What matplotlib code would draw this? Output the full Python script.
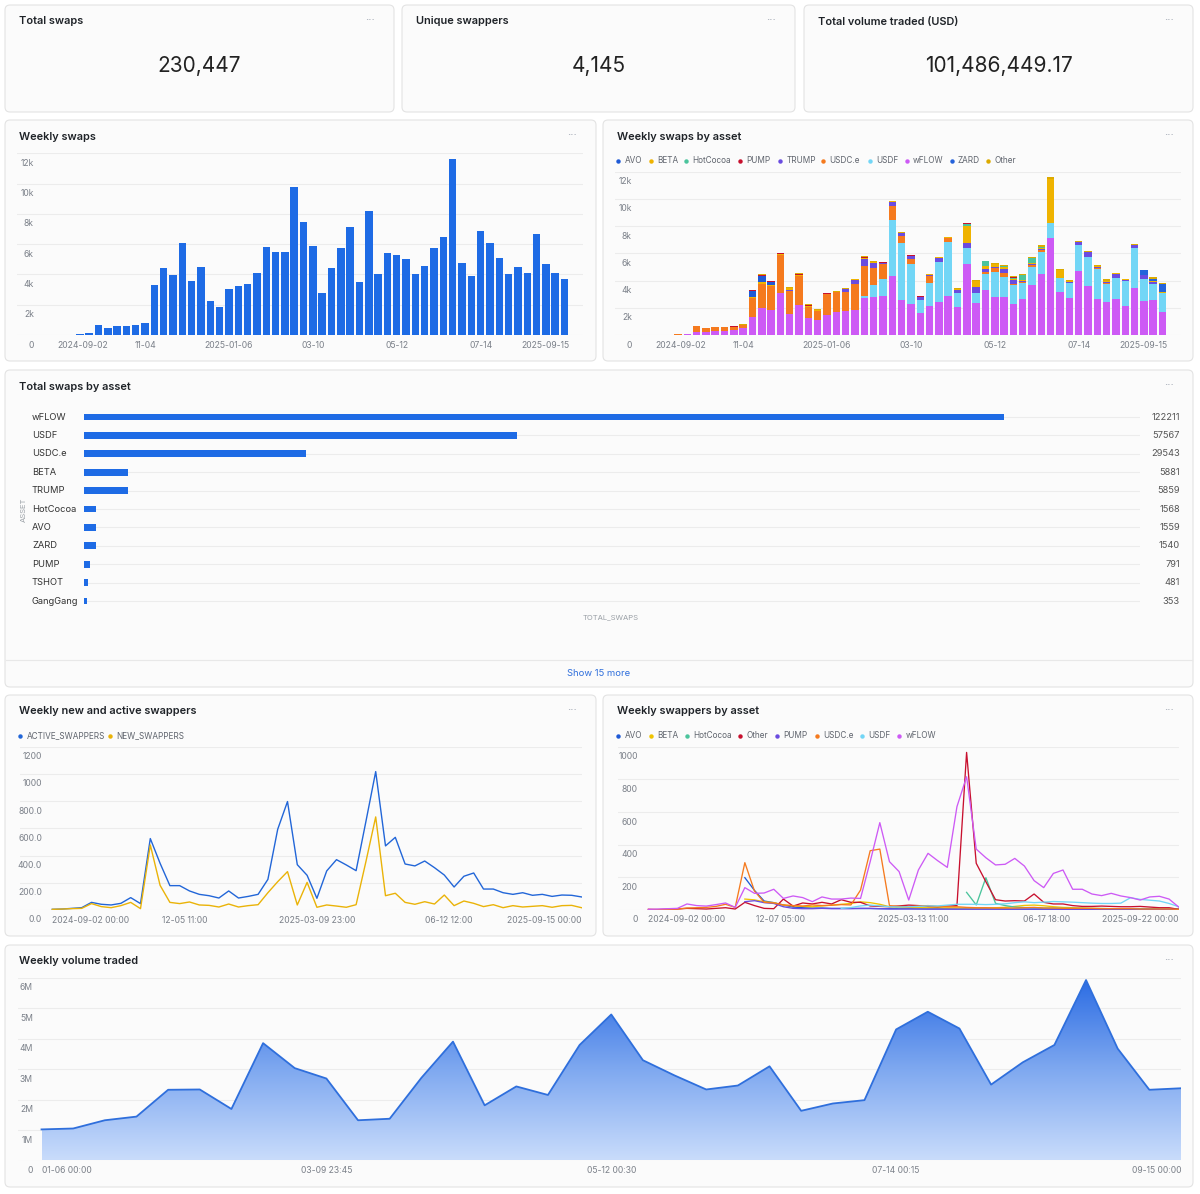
import numpy as np
import pandas as pd
import matplotlib
matplotlib.use('Agg')
import matplotlib.pyplot as plt
import matplotlib.dates as mdates
from matplotlib import transforms
from matplotlib.patches import FancyBboxPatch
from matplotlib.colors import LinearSegmentedColormap

nan = np.nan

# ---------------- data ----------------
kpi_titles = ['Total swaps', 'Unique swappers', 'Total volume traded (USD)']
kpi_values = ['230,447', '4,145', '101,486,449.17']

# weekly swaps, weeks 2024-09-16 .. 2025-09-15
weekly_swaps = [60, 100, 650, 450, 600, 600, 650, 800, 3300, 4450,
                3950, 6050, 3550, 4500, 2250, 1850, 3050, 3250, 3400, 4100,
                5800, 5450, 5450, 9800, 7450, 5850, 2800, 4450, 5750, 7150,
                3500, 8200, 4000, 5400, 5300, 5050, 4050, 4550, 5750, 6500,
                11650, 4750, 3900, 6850, 6100, 5100, 4000, 4500, 4100, 6700,
                4700, 4100, 3700]
week_ticks = ['2024-09-02', '11-04', '2025-01-06', '03-10', '05-12', '07-14', '2025-09-15']

# weekly swaps by asset (same weeks)
sw_wflow = [0, 50, 250, 250, 300, 300, 370, 500, 1350, 1950,
            1850, 3050, 1550, 2200, 1250, 1100, 1500, 1700, 1750, 1850,
            2700, 2800, 2850, 4300, 2600, 2250, 1600, 2130, 2400, 2870,
            2030, 5200, 2380, 3300, 2820, 2770, 2280, 2620, 3680, 4460,
            7160, 3140, 2720, 4700, 3600, 2650, 2400, 2620, 2130, 3460,
            2520, 2570, 1690]
sw_usdf = [0] * 20 + [200, 900, 1300, 4150, 4150, 3000, 1000, 1670, 2970, 3930,
                      1070, 1170, 720, 1160, 1830, 1520, 1400, 1180, 1340, 1670,
                      1100, 1030, 1080, 1900, 2160, 2180, 1350, 1580, 1870, 2960,
                      1620, 1180, 1370]
sw_usdce = [40, 40, 380, 230, 280, 280, 200, 230, 1350, 1800,
            1750, 2850, 1700, 2150, 800, 700, 1500, 1450, 1400, 1900,
            2200, 1200, 1050, 1050, 500, 350, 0, 540, 0, 300,
            0, 0, 0, 190, 250, 240, 80, 100, 150, 120,
            0, 0, 0, 0, 0, 80, 80, 0, 0, 0,
            0, 0, 0]
sw_trump = [0, 0, 0, 0, 0, 0, 0, 0, 0, 0,
            0, 0, 80, 0, 0, 0, 0, 0, 200, 300,
            500, 380, 80, 300, 220, 220, 180, 90, 300, 50,
            230, 420, 430, 190, 100, 350, 300, 80, 50, 90,
            0, 50, 90, 200, 320, 100, 100, 280, 50, 170,
            250, 180, 50]
sw_beta = [0, 0, 0, 0, 0, 0, 0, 0, 100, 120,
           100, 50, 100, 60, 60, 40, 40, 20, 40, 50,
           80, 60, 40, 30, 20, 20, 40, 20, 30, 20,
           40, 1200, 420, 220, 200, 120, 40, 60, 40, 60,
           3240, 530, 60, 40, 40, 40, 60, 40, 30, 20,
           20, 20, 20]
sw_avo = [0] * 8 + [420, 480, 220] + [0] * 42
sw_zard = [0] * 50 + [330, 200, 620]
sw_hotcocoa = [0] * 31 + [200, 0, 390, 0, 60, 100, 400, 380, 80] + [0] * 13
sw_pump = [0, 0, 0, 0, 0, 0, 60, 30, 60, 60,
           20, 40, 50, 50, 60, 20, 20, 10, 20, 20,
           40, 30, 10, 10, 10, 10, 20, 10, 20, 20,
           30, 20, 20, 0, 20, 40, 40, 0, 0, 0,
           0, 0, 0, 0, 0, 0, 0, 0, 0, 0,
           0, 0, 0]
sw_other = [10, 10, 20, 20, 20, 20, 20, 40, 30, 40,
            60, 60, 70, 90, 80, 40, 40, 20, 40, 30,
            80, 60, 20, 40, 40, 40, 40, 20, 30, 30,
            60, 30, 60, 20, 40, 60, 130, 50, 60, 100,
            140, 100, 80, 80, 40, 80, 110, 60, 50, 80,
            60, 80, 40]

# total swaps by asset
assets = ['wFLOW', 'USDF', 'USDC.e', 'BETA', 'TRUMP', 'HotCocoa', 'AVO', 'ZARD', 'PUMP', 'TSHOT', 'GangGang']
asset_totals = [122211, 57567, 29543, 5881, 5859, 1568, 1559, 1540, 791, 481, 353]

# weekly new and active swappers, weeks 2024-09-02 .. 2025-09-15
active_swappers = [5, 7, 12, 17, 56, 42, 37, 49, 91, 47,
                   525, 343, 179, 179, 140, 115, 105, 88, 140, 88,
                   100, 115, 225, 593, 797, 333, 255, 86, 287, 370,
                   331, 289, 650, 1017, 471, 534, 338, 324, 360, 311,
                   257, 169, 248, 272, 154, 154, 127, 115, 127, 108,
                   115, 100, 110, 108, 96]
new_swappers = [5, 7, 10, 12, 47, 25, 17, 32, 56, 10,
                478, 181, 56, 47, 59, 37, 34, 22, 44, 22,
                32, 39, 127, 208, 282, 37, 203, 20, 37, 29,
                20, 39, 355, 684, 105, 123, 56, 42, 61, 44,
                110, 32, 66, 49, 25, 39, 17, 32, 22, 27,
                32, 20, 32, 34, 17]
active_weeks = pd.date_range('2024-09-02', periods=len(active_swappers), freq='7D')
active_ticks = ['2024-09-02 00:00', '2024-12-05 11:00', '2025-03-09 23:00', '2025-06-12 12:00', '2025-09-15 00:00']
active_tick_labels = ['2024-09-02 00:00', '12-05 11:00', '2025-03-09 23:00', '06-12 12:00', '2025-09-15 00:00']

# weekly swappers by asset, weeks 2024-09-02 .. 2025-09-22
wflow_sw = [4, 6, 8, 10, 37, 27, 24, 33, 43, 16,
            137, 102, 104, 127, 71, 86, 76, 51, 80, 67,
            67, 73, 71, 296, 535, 296, 235, 61, 245, 347,
            302, 261, 633, 816, 373, 320, 276, 280, 316, 269,
            180, 137, 224, 245, 127, 127, 98, 88, 102, 86,
            76, 61, 80, 84, 67, 18]
other_sw = [4, 2, 4, 6, 10, 8, 6, 10, 14, 6,
            47, 27, 10, 8, 67, 24, 43, 37, 47, 37,
            63, 47, 47, 25, 22, 20, 25, 30, 27, 22,
            20, 24, 27, 965, 286, 173, 63, 55, 57, 55,
            98, 47, 37, 37, 27, 22, 22, 24, 22, 20,
            20, 22, 18, 14, 14, 4]
usdce_sw = [3, 3, 4, 6, 12, 14, 16, 22, 35, 16,
            290, 116, 47, 43, 31, 27, 24, 31, 27, 29,
            33, 31, 122, 363, 373, 27, 22, 20, 24, 27,
            22, 20, 20, 16, 14, 14, 12, 12, 12, 14,
            16, 12, 12, 10, 10, 10, 10, 8, 8, 8,
            8, 6, 6, 6, 6, 4]
usdf_sw = [nan] * 20 + [10, 15, 25, 30, 25, 20, 18, 20, 22, 25,
                        25, 30, 35, 35, 35, 33, 35, 38, 45, 50,
                        45, 48, 52, 50, 48, 45, 42, 40, 40, 42,
                        75, 65, 60, 55, 40, 20]
hotcocoa_sw = [nan] * 33 + [108, 31, 198, 41, 27, 18, 15, 14, 12, 12,
                            10, 10, 10, 9, 9, 8, 8, 8, 7, 7,
                            6, 6, 5]
avo_sw = [nan] * 10 + [198, 120, 55, 45, 30, 18, 14, 12, 12, 10,
                       10, 10, 9, 9, 8, 8, 8, 8, 7, 7,
                       7, 7, 6, 6, 6, 6, 6, 5, 5, 5,
                       5, 5, 5, 5, 5, 4, 4, 4, 4, 4,
                       4, 4, 4, 4, 4, 4]
beta_sw = [nan] * 10 + [67, 62, 50, 45, 30, 25, 22, 20, 25, 30,
                        35, 40, 50, 45, 35, 20, 15, 15, 14, 14,
                        14, 13, 13, 12, 12, 12, 14, 16, 22, 28,
                        30, 26, 20, 16, 14, 12, 10, 9, 8, 8,
                        7, 7, 6, 6, 5, 5]
pump_sw = [nan] * 10 + [51, 57, 45, 40, 20, 10, 8, 8, 10, 8,
                        8, 8, 10, 10, 8, 6, 6, 6, 6, 5,
                        5, 5, 5, 5, 5, 5, 5, 5, 5, 5,
                        5, 5, 4, 4, 4, 4, 4, 4, 4, 4,
                        4, 4, 4, 4, 3, 3]
asset_weeks = pd.date_range('2024-09-02', periods=len(wflow_sw), freq='7D')
asset_ticks = ['2024-09-02 00:00', '2024-12-07 05:00', '2025-03-13 11:00', '2025-06-17 18:00', '2025-09-22 00:00']
asset_tick_labels = ['2024-09-02 00:00', '12-07 05:00', '2025-03-13 11:00', '06-17 18:00', '2025-09-22 00:00']

# weekly volume traded (million USD), weeks 2025-01-06 .. 2025-09-15
volume_musd = [1.02, 1.05, 1.32, 1.44, 2.32, 2.33, 1.69, 3.85, 3.03, 2.69,
               1.32, 1.37, 2.71, 3.90, 1.81, 2.43, 2.15, 3.79, 4.79, 3.29,
               2.79, 2.33, 2.46, 3.09, 1.63, 1.87, 1.98, 4.30, 4.88, 4.33,
               2.49, 3.22, 3.79, 5.92, 3.67, 2.32, 2.37]
volume_weeks = pd.date_range('2025-01-06', periods=len(volume_musd), freq='7D')
volume_ticks = ['2025-01-06 00:00', '2025-03-09 23:45', '2025-05-12 00:30', '2025-07-14 00:15', '2025-09-15 00:00']
volume_tick_labels = ['01-06 00:00', '03-09 23:45', '05-12 00:30', '07-14 00:15', '09-15 00:00']

# ---------------- style ----------------
BLUE = '#1e6be5'
TITLE = '#1f2328'
TICK = '#7b8089'
LEG = '#60656e'
GRID = '#ececec'
asset_colors = {'AVO': '#1f5ad6', 'BETA': '#efb300', 'HotCocoa': '#4bc49c', 'PUMP': '#c8102e',
                'TRUMP': '#6a4ce0', 'USDC.e': '#f57a1e', 'USDF': '#72d6f6', 'wFLOW': '#cd5af5',
                'ZARD': '#2463db', 'Other': '#dcaa00'}
swapper_colors = {'AVO': '#1f5ad6', 'BETA': '#efc300', 'HotCocoa': '#4bc49c', 'Other': '#c8102e',
                  'PUMP': '#6a4ce0', 'USDC.e': '#f57a1e', 'USDF': '#72d6f6', 'wFLOW': '#cd5af5'}

W, H = 1200, 1194
plt.rcParams['font.family'] = ['Inter', 'DejaVu Sans']
fig = plt.figure(figsize=(W / 100, H / 100), dpi=100)
fig.patch.set_facecolor('white')

bg = fig.add_axes([0, 0, 1, 1], zorder=0)
bg.set_xlim(0, W)
bg.set_ylim(H, 0)
bg.axis('off')


def card(x0, y0, x1, y1, title):
    bg.add_patch(FancyBboxPatch((x0, y0), x1 - x0, y1 - y0,
                                boxstyle='round,pad=0,rounding_size=5',
                                facecolor='#fbfbfb', edgecolor='#e3e3e3', lw=0.8))
    bg.text(x0 + 14, y0 + 16.5, title, fontsize=7.9, fontweight='semibold',
            color=TITLE, va='center', ha='left')
    bg.text(x1 - 24, y0 + 15, '···', fontsize=8, color='#9ca3af', va='center', ha='center')


def chart_ax(x0, y0, x1, y1):
    ax = fig.add_axes([x0 / W, 1 - y1 / H, (x1 - x0) / W, (y1 - y0) / H], zorder=1)
    ax.patch.set_alpha(0)
    for s in ax.spines.values():
        s.set_visible(False)
    ax.set_xticks([])
    ax.set_yticks([])
    return ax


def y_labels(ax, ticks, labels, x_right):
    tr = transforms.offset_copy(transforms.blended_transform_factory(bg.transData, ax.transData),
                                fig=fig, y=-10, units='dots')
    for t, lab in zip(ticks, labels):
        ax.axhline(t, color=GRID, lw=0.8, zorder=0)
        bg.text(x_right, t, lab, transform=tr, ha='right', va='center', fontsize=6.2, color=TICK)


def x_labels(ax, positions, labels, y_px, has=None):
    tr = transforms.blended_transform_factory(ax.transData, bg.transData)
    for i, (p, lab) in enumerate(zip(positions, labels)):
        ha = has[i] if has else 'center'
        bg.text(p, y_px, lab, transform=tr, ha=ha, va='center', fontsize=6.2, color=TICK)


def legend_items(labels, colors, xs, y):
    for lab, col, x in zip(labels, colors, xs):
        bg.plot(x, y, 'o', ms=3.2, color=col, mew=0)
        bg.text(x + 6.3, y, lab, fontsize=5.9, color=LEG, va='center', ha='left')


# ---------------- KPI cards ----------------
for (x0, x1), t, v in zip([(5, 394), (402, 795), (804, 1193)], kpi_titles, kpi_values):
    card(x0, 5, x1, 112, t)
    bg.text((x0 + x1) / 2, 66, v, fontsize=15, color='#222222', ha='center', va='center')

# ---------------- weekly swaps ----------------
card(5, 120, 596, 361, 'Weekly swaps')
ax = chart_ax(17, 153.3, 583, 335)
xb = np.arange(len(weekly_swaps))
ax.bar(xb, weekly_swaps, width=0.8, color=BLUE, zorder=2)
ax.set_xlim(-6.74, 53.98)
ax.set_ylim(0, 12000)
y_labels(ax, [0, 2000, 4000, 6000, 8000, 10000, 12000], ['0', '2k', '4k', '6k', '8k', '10k', '12k'], 34)
x_labels(ax, [0.3, 7, 16, 25, 34, 43, 49.9], week_ticks, 345)

# ---------------- weekly swaps by asset ----------------
card(603, 120, 1193, 361, 'Weekly swaps by asset')
ax = chart_ax(615, 171.7, 1181, 335)
stack = [('wFLOW', sw_wflow), ('USDF', sw_usdf), ('USDC.e', sw_usdce), ('TRUMP', sw_trump),
         ('BETA', sw_beta), ('AVO', sw_avo), ('ZARD', sw_zard), ('HotCocoa', sw_hotcocoa),
         ('PUMP', sw_pump), ('Other', sw_other)]
bottom = np.zeros(len(sw_wflow))
for name, vals in stack:
    ax.bar(xb, vals, bottom=bottom, width=0.8, color=asset_colors[name], zorder=2)
    bottom += np.array(vals)
ax.set_xlim(-6.75, 53.98)
ax.set_ylim(0, 12000)
y_labels(ax, [0, 2000, 4000, 6000, 8000, 10000, 12000], ['0', '2k', '4k', '6k', '8k', '10k', '12k'], 632)
x_labels(ax, [0.3, 7, 16, 25, 34, 43, 49.9], week_ticks, 345)
leg1 = ['AVO', 'BETA', 'HotCocoa', 'PUMP', 'TRUMP', 'USDC.e', 'USDF', 'wFLOW', 'ZARD', 'Other']
legend_items(leg1, [asset_colors[n] for n in leg1],
             [618.3, 651, 686, 740, 780, 823.3, 870, 906.7, 951.7, 988.3], 160.7)

# ---------------- total swaps by asset ----------------
card(5, 370, 1193, 687, 'Total swaps by asset')
ax = chart_ax(84, 407.8, 1140, 610.2)
yr = np.arange(len(assets))
xmax = asset_totals[0] * (1140 - 84) / (1004 - 84)
ax.hlines(yr, 0, xmax, color=GRID, lw=0.8, zorder=0)
ax.barh(yr, asset_totals, height=0.38, color=BLUE, zorder=2)
ax.set_xlim(0, xmax)
ax.set_ylim(len(assets) - 0.5, -0.5)
tr = transforms.blended_transform_factory(bg.transData, ax.transData)
for i, (a, v) in enumerate(zip(assets, asset_totals)):
    bg.text(32, i, a, transform=tr, ha='left', va='center', fontsize=6.7, color='#333333')
    bg.text(1180, i, str(v), transform=tr, ha='right', va='center', fontsize=6.7, color='#555555')
bg.text(24, 510, 'ASSET', rotation=90, ha='center', va='center', fontsize=5.5, color='#9aa0a6')
bg.text(611, 617, 'TOTAL_SWAPS', ha='center', va='center', fontsize=5.5, color='#9aa0a6')
bg.plot([6, 1192], [660, 660], color='#e8e8e8', lw=0.8)
bg.text(599, 673.5, 'Show 15 more', ha='center', va='center', fontsize=6.8, color='#2f6fdc')

# ---------------- weekly new and active swappers ----------------
card(5, 695, 596, 936, 'Weekly new and active swappers')
ax = chart_ax(20, 746.7, 581.5, 910)
ax.plot(active_weeks, active_swappers, color='#2266d8', lw=1.0, zorder=3)
ax.plot(active_weeks, new_swappers, color='#eab308', lw=1.0, zorder=3)
ax.set_xlim(active_weeks[0] - pd.Timedelta(days=23.07), active_weeks[-1])
ax.set_ylim(0, 1200)
ax.set_xticks([])
y_labels(ax, [0, 200, 400, 600, 800, 1000, 1200],
         ['0.0', '200.0', '400.0', '600.0', '800.0', '1000', '1200'], 42)
x_labels(ax, [mdates.date2num(pd.Timestamp(t)) for t in active_ticks], active_tick_labels, 920.3,
         ['left', 'center', 'center', 'center', 'right'])
legend_items(['ACTIVE_SWAPPERS', 'NEW_SWAPPERS'], ['#2266d8', '#eab308'], [20, 110], 735.7)

# ---------------- weekly swappers by asset ----------------
card(603, 695, 1193, 936, 'Weekly swappers by asset')
ax = chart_ax(618, 746.7, 1178.7, 910)
lines = [('AVO', avo_sw), ('BETA', beta_sw), ('HotCocoa', hotcocoa_sw), ('Other', other_sw),
         ('PUMP', pump_sw), ('USDC.e', usdce_sw), ('USDF', usdf_sw), ('wFLOW', wflow_sw)]
for name, vals in lines:
    ax.plot(asset_weeks, vals, color=swapper_colors[name], lw=0.95, zorder=3)
ax.set_xlim(asset_weeks[0] - pd.Timedelta(days=22.1), asset_weeks[-1])
ax.set_ylim(0, 1000)
ax.set_xticks([])
y_labels(ax, [0, 200, 400, 600, 800, 1000], ['0', '200', '400', '600', '800', '1000'], 637.8)
x_labels(ax, [mdates.date2num(pd.Timestamp(t)) for t in asset_ticks], asset_tick_labels, 920,
         ['left', 'center', 'center', 'center', 'right'])
leg2 = [n for n, _ in lines]
legend_items(leg2, [swapper_colors[n] for n in leg2],
             [618.3, 651, 686.7, 740, 776.7, 816.7, 862.3, 899.3], 735.7)

# ---------------- weekly volume traded ----------------
card(5, 945, 1193, 1187, 'Weekly volume traded')
ax = chart_ax(18, 977.6, 1181, 1160.5)
xv = mdates.date2num(volume_weeks)
fill = ax.fill_between(xv, volume_musd, 0, color='none', lw=0)
cmap = LinearSegmentedColormap.from_list('vol', ['#c9dcfb', '#7ea8f0', '#2a6be3'])
im = ax.imshow(np.linspace(0, 1, 256).reshape(-1, 1), cmap=cmap, aspect='auto',
               extent=[xv[0], xv[-1], 0, 6], origin='lower', zorder=2)
im.set_clip_path(fill.get_paths()[0], transform=ax.transData)
ax.plot(xv, volume_musd, color='#2f6fdc', lw=1.3, zorder=3)
ax.set_xlim(xv[0] - 5.2, xv[-1])
ax.set_ylim(0, 6)
y_labels(ax, [0, 1, 2, 3, 4, 5, 6], ['0', '1M', '2M', '3M', '4M', '5M', '6M'], 33)
x_labels(ax, [mdates.date2num(pd.Timestamp(t)) for t in volume_ticks], volume_tick_labels, 1170.8,
         ['left', 'center', 'center', 'center', 'right'])

fig.savefig('out.png', dpi=100, facecolor='white')
